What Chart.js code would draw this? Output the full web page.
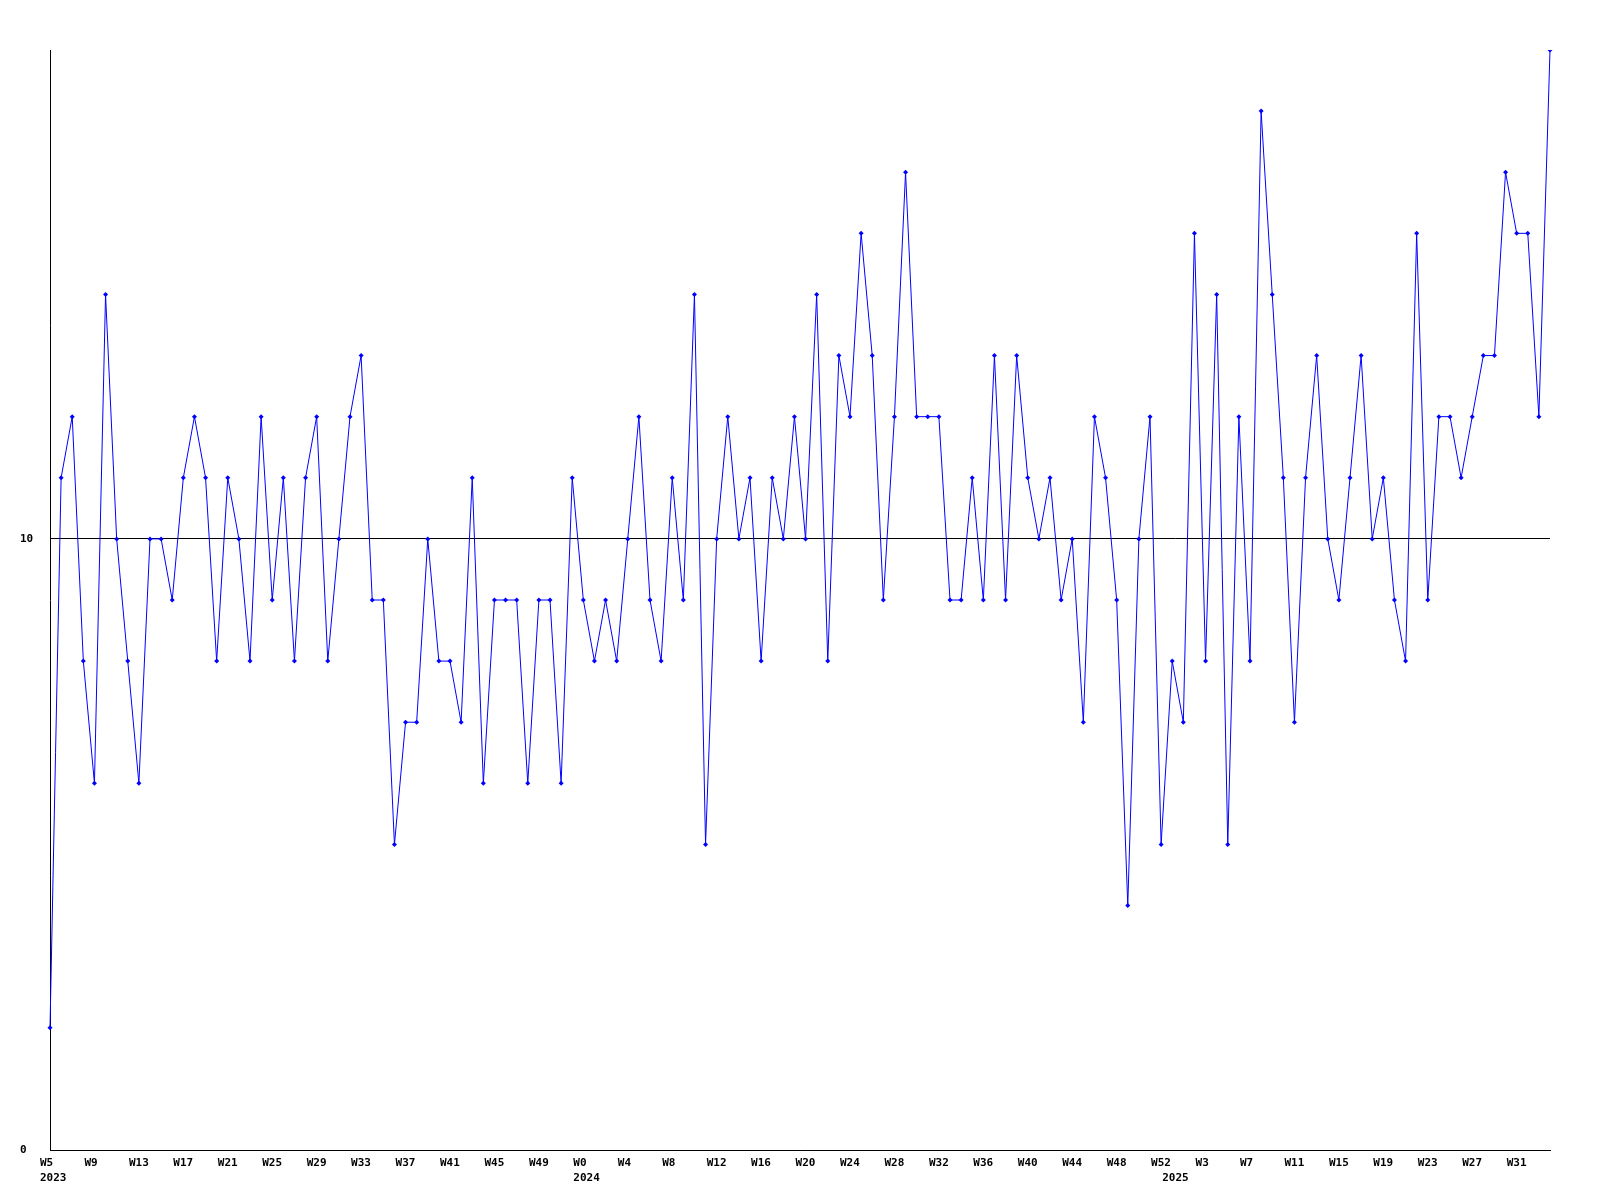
<!DOCTYPE html>
<html>
<head>
<meta charset="utf-8">
<title>Weekly chart</title>
<script src="https://cdn.jsdelivr.net/npm/chart.js@4.4.1/dist/chart.umd.min.js"></script>
<style>
  html, body { margin: 0; padding: 0; background: #ffffff; }
  #wrap { width: 1600px; height: 1200px; }
</style>
</head>
<body>
<div id="wrap"><canvas id="grafica" width="1600" height="1200"></canvas></div>
<script>
// --------------------- DATOS ---------------------
// semanas de cada año (categorias)
const semanas2023 = ["W5","W6","W7","W8","W9","W10","W11","W12","W13","W14","W15","W16","W17","W18","W19","W20",
  "W21","W22","W23","W24","W25","W26","W27","W28","W29","W30","W31","W32","W33","W34","W35","W36",
  "W37","W38","W39","W40","W41","W42","W43","W44","W45","W46","W47","W48","W49","W50","W51","W52"];
const semanas2024 = ["W0","W1","W2","W3","W4","W5","W6","W7","W8","W9","W10","W11","W12","W13","W14","W15","W16",
  "W17","W18","W19","W20","W21","W22","W23","W24","W25","W26","W27","W28","W29","W30","W31","W32",
  "W33","W34","W35","W36","W37","W38","W39","W40","W41","W42","W43","W44","W45","W46","W47","W48",
  "W49","W50","W51","W52"];
const semanas2025 = ["W0","W1","W2","W3","W4","W5","W6","W7","W8","W9","W10","W11","W12","W13","W14","W15","W16",
  "W17","W18","W19","W20","W21","W22","W23","W24","W25","W26","W27","W28","W29","W30","W31","W32",
  "W33","W34"];
const anios = ["2023", "2024", "2025"];

// valores por semana
const valores = [
  2, 11, 12, 8, 6, 14, 10, 8, 6, 10, 10, 9, 11, 12, 11, 8, 11, 10, 8, 12, 9, 11, 8,
  11, 12, 8, 10, 12, 13, 9, 9, 5, 7, 7, 10, 8, 8, 7, 11, 6, 9, 9, 9, 6, 9,
  9, 6, 11, 9, 8, 9, 8, 10, 12, 9, 8, 11, 9, 14, 5, 10, 12, 10, 11, 8, 11, 10, 12,
  10, 14, 8, 13, 12, 15, 13, 9, 12, 16, 12, 12, 12, 9, 9, 11, 9, 13, 9, 13, 11, 10,
  11, 9, 10, 7, 12, 11, 9, 4, 10, 12, 5, 8, 7, 15, 8, 14, 5, 12, 8, 17, 14, 11, 7,
  11, 13, 10, 9, 11, 13, 10, 11, 9, 8, 15, 9, 12, 12, 11, 12, 13, 13, 16, 15, 15, 12, 18
];

// ticks del eje y
const ticksY = [0, 10];



// --------------------- ETIQUETAS ---------------------
const categorias = semanas2023.concat(semanas2024, semanas2025);
// indice donde empieza cada año
const inicioAnio = {
  0: anios[0],
  [semanas2023.length]: anios[1],
  [semanas2023.length + semanas2024.length]: anios[2]
};

function etiquetaX(indice) {
  const anio = inicioAnio[indice];
  const semana = (indice % 4 === 0) ? categorias[indice] : '';
  if (anio) return [semana, anio];
  return semana;
}



// --------------------- GRAFICA ---------------------
const fuente = { family: "'DejaVu Sans Mono', 'Liberation Mono', monospace", size: 11, weight: 'bold', lineHeight: 1.37 };

new Chart(document.getElementById('grafica'), {
  type: 'line',
  data: {
    labels: categorias,
    datasets: [{
      data: valores,
      borderColor: '#0000ff',
      backgroundColor: '#0000ff',
      borderWidth: 1,
      pointStyle: 'rectRot',
      pointRadius: 2.5,
      pointBorderWidth: 0,
      tension: 0,
      fill: false,
      // deja ver el primer punto, corta arriba
      clip: { left: 5, top: 0, right: 5, bottom: 5 }
    }]
  },
  options: {
    responsive: false,
    animation: false,
    events: [],
    layout: { padding: { left: 20, right: 50, top: 50, bottom: 0 } },
    plugins: {
      legend: { display: false },
      title: { display: false },
      tooltip: { enabled: false }
    },
    scales: {
      x: {
        offset: false,
        grid: { display: false },
        border: { display: true, color: '#000000', width: 1 },
        ticks: {
          autoSkip: false,
          maxRotation: 0,
          minRotation: 0,
          align: 'start',
          labelOffset: -10,
          padding: -2,
          color: '#000000',
          font: fuente,
          callback: function (valor, indice) { return etiquetaX(indice); }
        },
        afterFit: function (escala) { escala.height = 50; }
      },
      y: {
        min: 0,
        max: 18,
        afterBuildTicks: function (escala) {
          escala.ticks = ticksY.map(v => ({ value: v }));
        },
        grid: { color: '#000000', lineWidth: 1, drawTicks: false },
        border: { display: true, color: '#000000', width: 1 },
        ticks: {
          crossAlign: 'far',
          padding: 0,
          color: '#000000',
          font: fuente
        },
        afterFit: function (escala) { escala.width = 30; }
      }
    }
  }
});
</script>
</body>
</html>
